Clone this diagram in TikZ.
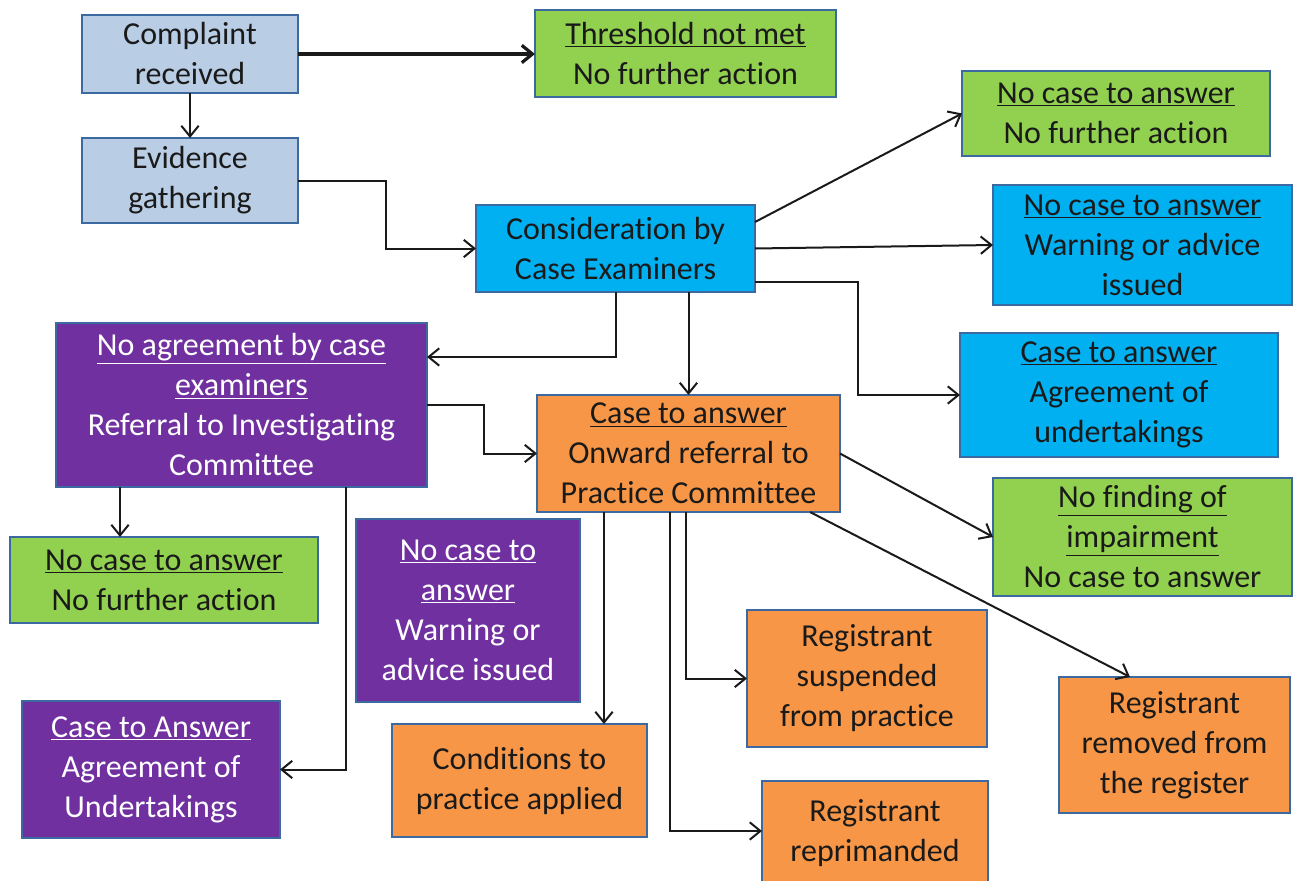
\documentclass[tikz,border=0pt]{standalone}
\usepackage{fontspec}
\setmainfont{Carlito}[Ligatures=NoCommon]
\usetikzlibrary{arrows.meta,calc}
\definecolor{lblue}{HTML}{B9CDE5}
\definecolor{grn}{HTML}{92D050}
\definecolor{cyn}{HTML}{00B0F0}
\definecolor{prp}{HTML}{7030A0}
\definecolor{org}{HTML}{F79646}
\definecolor{bord}{HTML}{3C6AA0}
\definecolor{ink}{HTML}{1A1A1A}
\newcommand\ul[1]{\leavevmode\rlap{\smash{\underline{\phantom{#1}}}}#1}
\newcommand\bx[7]{\node[box,#6,minimum width={(#4-#2)*0.75pt},minimum height={(#5-#3)*0.75pt}] (#1) at ({(#2+#4)/2},{(#3+#5)/2}) {#7};}
\begin{document}
\begin{tikzpicture}[x=0.75pt,y=-0.75pt,
  box/.style={draw=bord,line width=1.5pt,inner sep=0pt,outer sep=0pt,align=center,
    font=\fontsize{24}{30}\selectfont,text=ink},
  lb/.style={fill=lblue},
  gb/.style={fill=grn},
  cb/.style={fill=cyn},
  pb/.style={fill=prp,text=white},
  ob/.style={fill=org},
  conn/.style={draw=ink,line width=1.5pt,-{Straight Barb[length=8pt,width=13pt]}},
  thick conn/.style={conn,line width=2.4pt}]
\useasboundingbox (0,0) rectangle (1293,881);
\clip (0,0) rectangle (1293,881);
\fill[white] (0,0) rectangle (1293,881);

\bx{comp}{82}{15}{298}{93}{lb}{Complaint\\received}
\bx{thr}{535}{10}{836}{97}{gb}{\ul{Threshold not met}\\No further action}
\bx{evid}{82}{138}{298}{223}{lb}{Evidence\\gathering}
\bx{cons}{476}{205}{755}{292}{cb}{Consideration by\\Case Examiners}
\bx{nca}{962}{71}{1270}{156}{gb}{\ul{No case to answer}\\No further action}
\bx{ncw}{993}{185}{1292}{305}{cb}{\ul{No case to answer}\\Warning or advice\\issued}
\bx{cta}{960}{333}{1278}{457}{cb}{\ul{Case to answer}\\Agreement of\\undertakings}
\bx{noag}{56}{323}{427}{487}{pb}{\ul{No agreement by case}\\\ul{examiners}\\Referral to Investigating\\Committee}
\bx{onw}{537}{395}{840}{512}{ob}{\ul{Case to answer}\\Onward referral to\\Practice Committee}
\bx{nfi}{993}{478}{1292}{596}{gb}{\ul{No finding of}\\\ul{impairment}\\No case to answer}
\bx{ncb}{10}{537}{318}{623}{gb}{\ul{No case to answer}\\No further action}
\bx{ncwp}{356}{519}{580}{702}{pb}{\ul{No case to}\\\ul{answer}\\Warning or\\advice issued}
\bx{susp}{747}{610}{987}{747}{ob}{Registrant\\suspended\\from practice}
\bx{rem}{1059}{677}{1290}{813}{ob}{Registrant\\removed from\\the register}
\bx{ctau}{22}{701}{280}{838}{pb}{\ul{Case to Answer}\\Agreement of\\Undertakings}
\bx{cond}{392}{724}{647}{837}{ob}{Conditions to\\practice applied}
\bx{repr}{762}{781}{988}{885}{ob}{Registrant\\reprimanded}

\draw[thick conn] (comp.east) -- (comp.east -| thr.west);
\draw[conn] (comp.south) -- (evid.north);
\draw[conn] (evid.east) -- ++(88,0) |- (cons.west);
\draw[conn] ($(cons.east)+(0,-26.5)$) -- (nca.west);
\draw[conn] (cons.east) -- (ncw.west);
\draw[conn] ($(cons.east)+(0,33.5)$) -- ++(103,0) |- (cta.west);
\draw[conn] ($(cons.south)+(0.5,0)$) |- ($(noag.east)+(0,-48)$);
\draw[conn] (cons.south -| onw.north) -- (onw.north);
\draw[conn] (noag.east) -- ++(57,0) |- (onw.west);
\draw[conn] ($(noag.south west)+(64,0)$) -- ($(ncb.north west)+(110,0)$);
\draw[conn] ($(noag.south west)+(290,0)$) |- (ctau.east);
\draw[conn] (onw.east) -- (nfi.west);
\draw[conn] ($(onw.south east)+(-30,0)$) -- ($(rem.north west)+(71,0)$);
\draw[conn] ($(onw.south west)+(67,0)$) -- ($(cond.north west)+(212,0)$);
\draw[conn] ($(onw.south west)+(149,0)$) |- (susp.west);
\draw[conn] ($(onw.south west)+(133,0)$) |- ($(repr.north west)+(0,50)$);
\end{tikzpicture}
\end{document}
